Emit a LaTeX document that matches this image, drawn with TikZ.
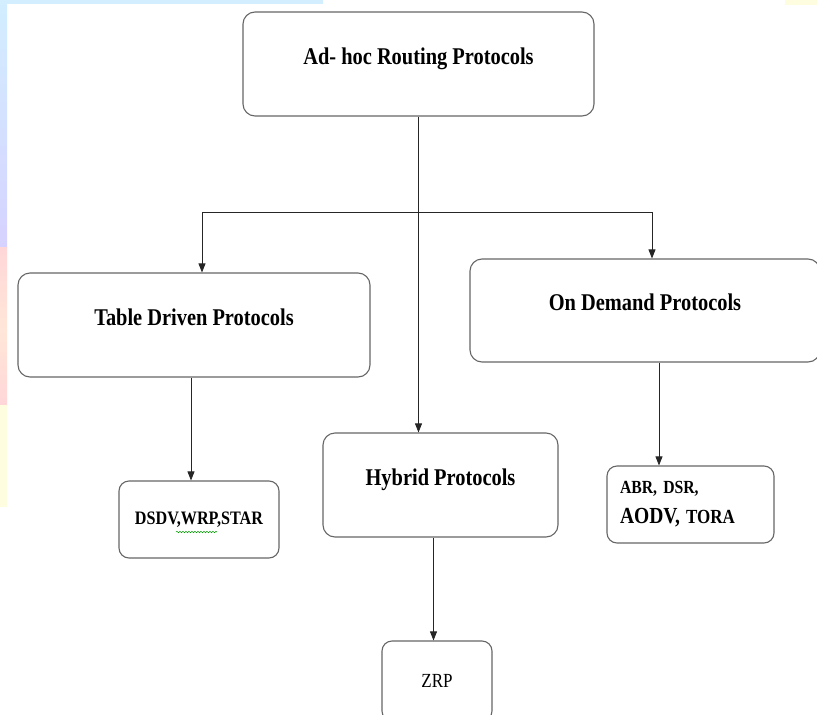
\documentclass[tikz,border=0pt]{standalone}
\usepackage{fontspec}
\setmainfont{Liberation Serif}[FakeStretch=0.85]
\usetikzlibrary{positioning,arrows.meta,decorations.pathmorphing}
\definecolor{stripblue}{HTML}{D2EEFF}
\definecolor{striplilac}{HTML}{D6D2FF}
\definecolor{strippink}{HTML}{FFD6D8}
\definecolor{strippeach}{HTML}{FFE6D8}
\definecolor{stripyellow}{HTML}{FFFDE0}

\begin{document}
\begin{tikzpicture}[
    x=1pt, y=-1pt,
    node/.style={%
      draw=black!60,
      line width=1.1pt,
      rectangle,
      rounded corners=12pt,
      inner sep=0pt,
      font=\fontsize{24}{28}\selectfont\bfseries,
    },
    bigbox/.style={%
      node,
      minimum height=104pt,
      text height=8pt,
      text depth=8pt,
    },
    smallbox/.style={%
      node,
      rounded corners=10pt,
      minimum height=77pt,
      font=\fontsize{19}{22}\selectfont\bfseries,
    },
    link/.style={%
      draw=black!85,
      line width=0.8pt,
    },
    conn/.style={%
      link,
      -{Triangle[length=9pt,width=7pt]},
    },
  ]

    \useasboundingbox (0,0) rectangle (817,715);
    \clip (0,0) rectangle (817,715);

    \shade [top color=stripblue, bottom color=striplilac] (0,0) rectangle (7,247);
    \shade [top color=strippink, bottom color=strippeach] (0,247) rectangle (7,330);
    \shade [top color=strippeach, bottom color=strippink] (0,330) rectangle (7,405);
    \fill [stripyellow] (0,405) rectangle (7,507);
    \fill [stripblue] (0,0) rectangle (323,4);
    \fill [stripyellow] (785,0) rectangle (817,5);

    \node [bigbox, minimum width=351pt] (A) at (418.5,64) {Ad- hoc Routing Protocols};
    \path (A) ++(-224.5,261) node [bigbox, minimum width=352pt] (B) {Table Driven Protocols};
    \path (A) ++(226.5,246.5) node [bigbox, minimum width=350pt, minimum height=103pt] (C) {On Demand Protocols};
    \path (A) ++(22,421) node [bigbox, minimum width=235pt] (D) {Hybrid Protocols};
    \path (B) ++(5,194.5) node [smallbox, minimum width=160pt] (E) {DSDV,WRP,STAR};
    \path (C) ++(45.5,194) node [smallbox, minimum width=167pt, text width=141pt, align=left,
      font=\fontsize{18.5}{30}\selectfont\bfseries] (F)
      {ABR, DSR,\\{\fontsize{23}{30}\selectfont AODV,} {\fontsize{20}{30}\selectfont TORA}};
    \path (D) ++(-3.5,196) node [smallbox, minimum width=110pt, minimum height=80pt,
      font=\fontsize{20}{22}\selectfont\mdseries] (G) {ZRP};

    \coordinate (J) at (A.south |- 0,212);
    \coordinate (JL) at (202,212);
    \coordinate (JR) at (652,212);

    \draw [link] (JL) -- (JR);
    \draw [conn] (A.south) -- (J) -- (A.south |- D.north);
    \draw [conn] (JL) -- (JL |- B.north);
    \draw [conn] (JR) -- (JR |- C.north);
    \draw [conn] ([xshift=-3pt]B.south) -- ([xshift=-3pt]B.south |- E.north);
    \draw [conn] ([xshift=14pt]C.south) -- ([xshift=14pt]C.south |- F.north);
    \draw [conn] ([xshift=-7pt]D.south) -- ([xshift=-7pt]D.south |- G.north);

    \draw [green!60!black, line width=0.5pt, decorate,
      decoration={snake, amplitude=0.7pt, segment length=3pt}] (176,532) -- (217,532);

\end{tikzpicture}
\end{document}
